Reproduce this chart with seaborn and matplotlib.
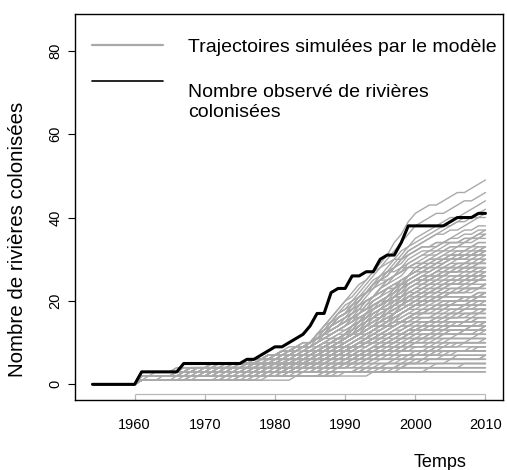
import numpy as np
import pandas as pd
import matplotlib
matplotlib.use("Agg")
import matplotlib.pyplot as plt
import seaborn as sns

# ---- data -------------------------------------------------------------
years = list(range(1954, 2011))
first_sim_year = 1961

# observed number of colonised rivers, one value per year 1954..2010
observed = [0, 0, 0, 0, 0, 0, 0,
            3, 3, 3, 3, 3, 3,
            5, 5, 5, 5, 5, 5, 5, 5, 5,
            6, 6, 7, 8, 9, 9, 10, 11, 12, 14,
            17, 17, 22, 23, 23, 26, 26, 27, 27, 30,
            31, 31, 34, 38, 38, 38, 38, 38, 38, 39,
            40, 40, 40, 41, 41]

# simulated runs: first digit = count in 1961, then yearly increments
# (1962-65, 1966-70, 1971-75, ..., 2006-10)
sim_runs = [
    "3 0000 00100 01000 10010 10101 22222 22122 23232 11011 10111",
    "3 0000 01000 00010 10010 10101 21221 22222 22222 11101 11011",
    "3 0000 00000 00100 01110 10110 11221 21222 22212 11111 01111",
    "3 0000 00010 10000 01010 10101 11221 12212 22221 11110 11011",
    "2 0100 00000 00001 01011 10011 21211 22121 21221 11111 10101",
    "3 0000 10000 00000 00101 01111 11112 22221 12221 11101 01110",
    "3 0000 00000 01000 01001 10110 12111 22112 21221 10111 11010",
    "2 0000 00100 00100 10100 01011 11111 21222 12121 11011 01011",
    "3 0000 00100 01000 10010 10101 12121 21221 12121 10101 01010",
    "2 0000 01000 00010 01010 10101 21221 22122 11211 10010 00101",
    "3 0000 00010 10000 00100 01110 11110 11221 12212 11111 01110",
    "2 0000 10000 00100 01001 11101 11211 12112 21211 10101 01010",
    "1 0010 00001 10010 10010 10101 22222 12221 11011 10100 01001",
    "3 0000 00100 00010 01000 00101 11011 21211 11221 11111 10110",
    "2 0000 01000 10000 10100 01111 11111 12212 11121 01011 10010",
    "3 0000 00010 00100 01010 10101 22122 11221 10101 11010 00100",
    "2 0000 10000 00001 00010 10010 11110 11221 21121 11111 01011",
    "1 0000 00100 01000 01001 11011 11111 21211 21111 10110 10100",
    "3 0000 01000 10000 00101 10101 12221 11212 01111 01001 00010",
    "2 0000 00001 00000 01010 10010 11011 12111 12121 11101 10110",
    "3 0000 00100 00010 00101 01011 11111 11121 21111 10101 01000",
    "2 0000 10000 01001 10010 10101 21121 11221 11110 01010 00001",
    "1 0000 01000 00000 10100 01001 11101 11112 21211 01111 01011",
    "3 0000 00010 00100 10000 11011 10111 12111 11111 10110 00100",
    "2 0000 00001 01010 00101 10101 11221 11111 11011 10100 01000",
    "3 0000 10000 00000 00010 01001 01111 11111 21111 11110 01010",
    "2 0000 00100 01000 00001 11110 11011 11211 11111 01110 00010",
    "1 1000 00010 10010 01010 10101 11211 12111 10101 00101 10000",
    "3 0000 00000 00100 01000 10010 01110 11111 11211 11011 01001",
    "2 0000 01000 00010 10000 10110 11101 21111 01111 11010 00100",
    "3 0000 00100 00001 10001 01110 11211 11011 01011 10100 01000",
    "2 0000 00000 00010 10000 01001 11010 11111 11111 10111 01010",
    "1 0000 10000 00100 00001 01011 11110 11121 11101 10101 00010",
    "3 0000 00010 01000 00101 11010 11111 10111 10010 01010 00001",
    "2 0000 00000 00001 00100 10100 01011 11011 11211 10110 00101",
    "3 0000 00100 00000 01001 00101 11101 01111 11110 01001 10000",
    "2 0000 01000 00001 10010 01110 11111 11011 01001 10100 00100",
    "1 0000 00000 01000 00010 10100 01001 11111 11111 01110 01001",
    "3 0000 00001 00000 00100 11010 10101 11101 10111 10010 00010",
    "2 0000 10000 00010 10100 01011 01110 11110 10110 00100 01000",
    "3 0000 00000 00100 00001 01000 00101 11011 11111 01010 10010",
    "2 0000 00010 00000 10000 01110 10110 11011 01011 00001 00100",
    "1 0000 00100 10000 01001 10110 11010 10111 01110 01000 00010",
    "3 0000 00000 00010 00000 01001 10100 10101 11101 00101 01010",
    "2 0000 01000 00000 00100 10010 11010 01111 10101 00010 10000",
    "3 0000 00100 01000 00001 00101 01011 10110 01010 00100 01000",
    "2 0000 00000 10000 00000 10010 01010 01011 11011 10100 00101",
    "1 0000 00000 00100 00010 01001 10101 01110 11101 00001 01000",
    "3 0000 00001 00000 10100 00101 11010 10110 00100 00010 10000",
    "2 0000 00000 01000 00000 00100 01010 10101 10111 01001 00010",
    "3 0000 00000 00010 10000 00001 10010 01110 11010 01000 00100",
    "2 0000 10000 00000 00101 01001 10100 01011 00010 10000 00001",
    "1 0000 00000 00001 00000 01000 01001 10110 11011 00101 01000",
    "3 0000 00000 00100 00000 10010 01010 10100 00101 00010 00001",
    "2 0000 00000 01000 00010 01001 10101 01010 10010 00000 00100",
    "3 0000 00000 00010 00000 00100 01000 10010 01011 10000 00010",
    "2 0000 00000 10000 00000 01010 00101 01001 10100 00100 01000",
    "1 0000 00000 00100 01000 00101 10010 01010 00101 00000 00010",
    "3 0000 00000 00000 00010 01000 00100 10010 01010 00001 10000",
    "2 0000 00000 00001 00000 00100 01001 10100 00101 01000 00000",
    "3 0000 00000 01000 00100 00010 10000 01010 00100 00010 00000",
    "2 0000 00000 00000 00100 00000 01000 10010 00101 00100 10000",
    "1 0000 00000 00010 00000 10000 01010 00101 10010 00001 00000",
    "3 0000 00000 00100 00000 00001 01000 01001 00000 00100 00000",
    "2 0000 00000 00000 01000 00000 00010 10100 00001 01000 00100",
    "3 0000 00000 00000 00010 00000 10000 00100 01000 00010 00000",
    "2 0000 00000 10000 00000 01000 00010 01001 00000 00100 00000",
    "1 0000 00000 00000 00100 00000 00010 01000 10100 00000 00001",
    "3 0000 00000 00000 10000 00000 00100 00010 00000 01000 00000",
    "2 0000 00000 00000 00001 00000 01000 00100 00010 00000 00000",
    "3 0000 00000 00000 00000 00100 00000 00010 00000 10000 00000",
    "2 0000 00000 00000 00000 01000 00000 00001 00100 00000 00000",
    "1 0000 00000 00000 01000 00000 00100 00010 10000 00000 00000",
    "3 0000 00000 00000 00000 00000 00000 00100 00000 00000 00000",
    "2 0000 00000 00000 00000 00010 00000 00000 01000 00000 00000",
    "3 0000 00000 00000 00000 00000 00000 00000 00000 00000 00000",
    "2 0000 00000 00000 00000 00000 00100 00000 00000 00000 00000",
    "3 0000 00010 00100 10010 01011 11011 12121 11111 10101 00100",
    "2 0000 10000 01000 01110 10101 11111 10111 11010 00101 00010",
    "3 0000 00000 00001 01000 00100 10010 11011 01111 10010 01001",
    "3 0000 00000 01000 00010 00100 01001 10101 01010 00100 00001",
    "2 0000 00000 00010 00100 10010 00101 01010 00100 01000 00000",
    "3 0000 00000 00000 01000 00001 00100 10010 00010 00100 00000",
    "3 0000 00000 00000 00000 10000 00010 01000 00100 00001 00000",
    "1 0000 00000 00000 00010 00000 01000 00100 00010 10000 00000",
    "3 0000 01000 10000 01001 10101 11211 11211 10101 01010 00100",
    "2 0000 00000 10000 00100 00010 10101 11011 11111 01110 01010",
    "3 0000 00000 00100 00010 01010 10010 11110 10101 00001 01000",
    "2 0000 00000 00100 01000 10101 11111 21221 12212 10101 00011",
    "3 0000 00001 00000 00100 10010 11111 12121 11211 01011 01010",
    "2 0000 00000 01000 00010 00101 11011 11211 12121 11101 10010",
    "1 0000 00000 00001 01000 01110 11111 21211 11121 10101 01000",
    "3 0000 00000 00000 10000 01001 10111 11211 11121 11011 00101",
    "2 0000 01000 00000 00010 10100 11110 11111 21111 10110 01011",
    "3 0000 00000 00010 00000 01010 11101 11111 11211 01110 10010",
    "2 0000 00000 00000 00100 10010 10101 11121 12111 11011 01001",
    "1 0000 00010 00000 10000 00101 11011 11111 12111 01011 00100",
    "3 0000 00000 00100 01000 00001 01011 11111 11111 10101 01001",
    "2 0000 00000 00000 00010 01001 10110 11111 12111 01101 00011",
    "3 0000 00000 10000 00000 00100 10101 11111 11111 11010 00010",
    "2 0000 00100 00000 01000 00010 01110 11101 11111 10101 00101",
    "1 0000 00000 00100 00010 01010 10101 11011 11111 01001 10010",
    "3 0000 00000 00000 00001 10000 01011 11110 11111 10010 00100",
    "2 0000 00000 00010 00000 01000 10100 01111 11111 10110 01000",
    "3 0000 00000 00000 01000 00100 01010 11011 10111 00101 00010",
    "2 0000 00000 00000 00000 10000 00101 10111 11011 10101 00011",
    "1 0000 00100 00000 00010 01000 10010 01110 11110 01001 00010",
    "3 0000 00000 00000 00100 00001 00101 10110 01101 10010 00100",
    "2 0000 00000 01000 00000 00010 10010 01011 11010 00101 10000",
    "3 0000 00000 00000 00000 00100 01001 10101 01110 10001 00010",
    "2 0000 00000 00000 00010 10000 00100 11010 01011 01001 00001",
    "1 0000 00000 00000 01000 00100 10010 01010 10101 00110 01000",
    "3 0000 00000 00000 00000 01000 00010 10010 01011 10010 00001",
    "2 0000 00000 00000 00100 00000 10000 01001 10100 01010 00100",
    "3 0000 00000 00000 00000 00010 00100 10010 00101 01000 00001",
    "2 0000 00000 00000 00000 00000 01000 00101 01001 10010 01000",
    "1 0000 00000 00000 10000 00000 00100 01000 00101 00010 10000",
    "3 0000 00000 00000 00000 00000 00010 10000 01010 00100 00010",
    "2 0000 00000 00000 00000 10000 00000 00100 00010 01000 00001",
    "3 0000 00000 00000 00000 00000 00000 01000 00100 00001 10000",
    "2 0000 00000 00000 00000 00000 00001 00000 10000 00100 00000",
    "1 0000 00000 00000 00000 00100 00000 00010 00000 01000 00000",
    "3 0000 00000 00000 00000 00000 00000 00000 00100 00000 01000",
    "2 0000 10000 00100 00010 01001 10101 11011 11111 10101 01001",
    "3 0000 00100 00001 01000 10010 01110 11111 11111 11010 00101",
    "2 0000 00000 00010 10000 01001 11101 11111 11111 11011 01110",
    "3 0000 00000 01000 00100 10010 10111 11211 11111 10101 10010",
    "2 0000 00000 00000 00001 10101 11111 11221 11121 01011 01010",
    "3 0000 00000 00100 01000 01010 11111 21121 12111 10110 10001",
    "2 0000 00000 10000 00010 10101 11111 12121 21211 11011 00101",
    "3 0000 00000 00000 01000 11010 11111 21221 11221 01011 01010",
    "1 0000 00000 00001 00100 01110 11111 12112 12121 10111 10101",
    "3 0000 00000 00100 00010 01001 11111 22112 12121 11110 01010",
    "2 0000 00000 01000 00100 10010 11011 11111 10111 01010 00001",
    "3 0000 00000 00010 01000 00100 10101 11011 11110 00101 00100",
    "2 0000 00000 00000 10000 00001 01110 11101 01011 01001 01000",
    "3 0000 00000 00000 00100 01000 10100 01011 10101 00010 00001",
    "2 0000 00000 00000 00000 00010 01010 10101 01011 00101 00100",
]

x_ticks = [1960, 1970, 1980, 1990, 2000, 2010]
y_ticks = [0, 20, 40, 60, 80]

legend_sim = "Trajectoires simulées par le modèle"
legend_obs = ["Nombre observé de rivières", "colonisées"]
x_label = "Temps"
y_label = "Nombre de rivières colonisées"


def expand(code):
    digits = [int(c) for c in code.replace(" ", "")]
    lead = [0] * (first_sim_year - years[0])
    return lead + list(np.cumsum(digits))


rows = []
for run_id, code in enumerate(sim_runs):
    for yr, val in zip(years, expand(code)):
        rows.append((run_id, yr, val))
sim_df = pd.DataFrame(rows, columns=["run", "year", "n"])
obs_df = pd.DataFrame({"year": years, "n": observed})

# ---- figure -----------------------------------------------------------
sns.set_style("white")
plt.rcParams["font.family"] = ["Liberation Sans", "DejaVu Sans"]
for key in ["text.color", "axes.labelcolor", "xtick.color", "ytick.color"]:
    plt.rcParams[key] = "black"

GRAY = "#a9a9a9"
W, H = 507, 470
fig = plt.figure(figsize=(W / 100, H / 100), dpi=100)
L, R, T, B = 75, 503, 14, 400
ax = fig.add_axes([L / W, 1 - B / H, (R - L) / W, (B - T) / H])

sns.lineplot(data=sim_df, x="year", y="n", units="run", estimator=None,
             color=GRAY, lw=1.0, ax=ax, legend=False)
sns.lineplot(data=obs_df, x="year", y="n", color="black", lw=2.2, ax=ax,
             legend=False)

ax.set_xlim(1951.5, 2012.5)
ax.set_ylim(-3.75, 88.8)

for sp in ax.spines.values():
    sp.set_visible(True)
    sp.set_color("black")
    sp.set_linewidth(1.0)

ax.set_xticks(x_ticks)
ax.set_xticklabels([str(t) for t in x_ticks])
ax.tick_params(axis="x", length=0, pad=13, labelsize=10.5)
ax.set_yticks(y_ticks)
ax.set_yticklabels([str(t) for t in y_ticks], rotation=90, va="center")
ax.tick_params(axis="y", length=5, width=0.8, color="black", pad=4,
               labelsize=10.5, left=True)
ax.set_xlabel("")
ax.set_ylabel("")

# grey time axis with downward ticks, drawn just above the frame
axis_y = -2.2
ax.hlines(axis_y, x_ticks[0], x_ticks[-1], color="#b8b8b8", lw=0.9)
ax.vlines(x_ticks, ax.get_ylim()[0], axis_y, color="#b8b8b8", lw=0.9)

# axis titles
fig.text(440 / W, 1 - 467 / H, x_label, ha="center", va="baseline",
         fontsize=13)
fig.text(18 / W, 1 - 239 / H, y_label, rotation=90, ha="center",
         va="center", fontsize=14.8)

# legend
def fx(px):
    return (px - L) / (R - L)

def fy(py):
    return (B - py) / (B - T)

ax.plot([fx(92), fx(163)], [fy(45), fy(45)], transform=ax.transAxes,
        color=GRAY, lw=1.6)
ax.plot([fx(92), fx(163)], [fy(81), fy(81)], transform=ax.transAxes,
        color="black", lw=1.2)
ax.text(fx(188), fy(52), legend_sim, transform=ax.transAxes,
        ha="left", va="baseline", fontsize=14)
ax.text(fx(188), fy(97), legend_obs[0], transform=ax.transAxes,
        ha="left", va="baseline", fontsize=14)
ax.text(fx(188), fy(117), legend_obs[1], transform=ax.transAxes,
        ha="left", va="baseline", fontsize=14)

fig.savefig("out.png", dpi=100, facecolor="white")
